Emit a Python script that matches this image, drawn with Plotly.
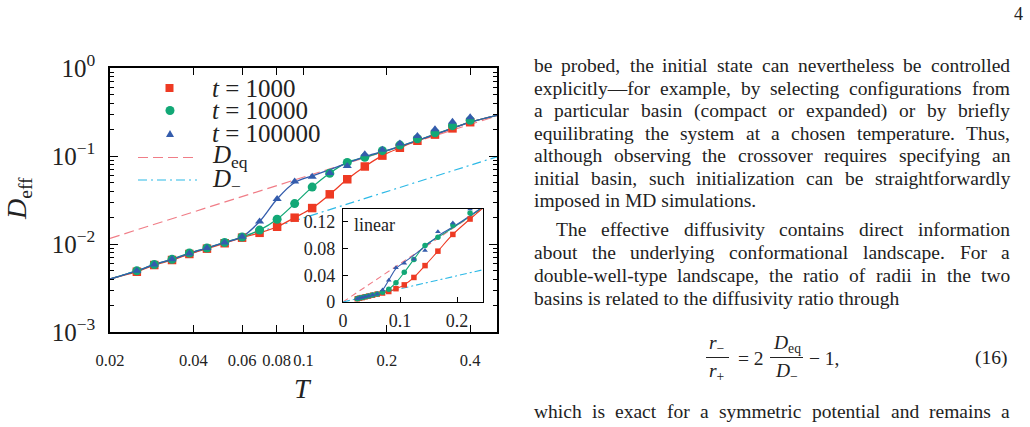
import plotly.graph_objects as go

W, H = 1030, 427

# ---------------- data ----------------
T = [0.0250, 0.0289, 0.0335, 0.0387, 0.0448, 0.0519, 0.0600, 0.0694, 0.0803, 0.0929,
     0.1075, 0.1244, 0.1439, 0.1665, 0.1927, 0.2229, 0.2579, 0.2985, 0.3453, 0.4000]
D_T1000 = [0.00484, 0.00577, 0.00658, 0.0077, 0.00885, 0.0102, 0.0118, 0.0134, 0.0157, 0.0199,
           0.0256, 0.0367, 0.0544, 0.0760, 0.101, 0.124, 0.149, 0.175, 0.206, 0.242]
D_T10000 = [0.00495, 0.00585, 0.0067, 0.0079, 0.0090, 0.0104, 0.0120, 0.0144, 0.0191, 0.0288,
            0.0443, 0.0637, 0.0845, 0.0966, 0.115, 0.133, 0.157, 0.184, 0.221, 0.254]
D_T100000 = [0.00495, 0.00585, 0.0067, 0.0078, 0.0090, 0.0104, 0.0121, 0.0180, 0.0325, 0.0512,
             0.0580, 0.0640, 0.0769, 0.105, 0.118, 0.139, 0.169, 0.201, 0.245, 0.275]

FIT_T = [0.0200, 0.0250, 0.0289, 0.0335, 0.0387, 0.0448, 0.0519, 0.0600, 0.0694, 0.0803, 0.0929,
         0.1075, 0.1244, 0.1439, 0.1665, 0.1927, 0.2229, 0.2579, 0.2985, 0.3453, 0.4000, 0.5000]
FIT_1000 = [0.0040, 0.00484, 0.00577, 0.00658, 0.0077, 0.00885, 0.0102, 0.0118, 0.0134, 0.0157, 0.0199,
            0.0256, 0.0367, 0.0544, 0.0760, 0.101, 0.124, 0.149, 0.175, 0.206, 0.242, 0.290]
FIT_10000 = [0.0040, 0.00495, 0.00585, 0.0067, 0.0079, 0.0090, 0.0104, 0.0120, 0.0144, 0.0191, 0.0288,
             0.0443, 0.0637, 0.0845, 0.0966, 0.111, 0.128, 0.150, 0.177, 0.208, 0.243, 0.290]
FIT_100000 = [0.0040, 0.00495, 0.00585, 0.0067, 0.0078, 0.0090, 0.0104, 0.0121, 0.0180, 0.0325, 0.0500,
              0.0595, 0.0700, 0.0830, 0.0985, 0.112, 0.129, 0.150, 0.176, 0.207, 0.243, 0.290]

DEQ_T = [0.0, 0.02, 0.5]
DEQ_D = [0.0, 0.0116, 0.285]
DMINUS_T = [0.0, 0.02, 0.5]
DMINUS_D = [0.0, 0.0040, 0.098]

SERIES_NAMES = ["<i>t</i> = 1000", "<i>t</i> = 10000", "<i>t</i> = 100000"]
GUIDE_NAMES = ["<i>D</i><sub>eq</sub>", "<i>D</i><sub>−</sub>"]

X_TICKS = [0.02, 0.04, 0.06, 0.08, 0.1, 0.2, 0.4]
X_TICKTEXT = ["0.02", "0.04", "0.06", "0.08", "0.1", "0.2", "0.4"]
Y_TICKS = [1e-3, 1e-2, 1e-1, 1]
Y_TICKTEXT = ["10<sup>−3</sup>", "10<sup>−2</sup>", "10<sup>−1</sup>", "10<sup>0</sup>"]
INSET_X_TICKS = [0, 0.1, 0.2]
INSET_X_TICKTEXT = ["0", "0.1", "0.2"]
INSET_Y_TICKS = [0, 0.04, 0.08, 0.12]
INSET_Y_TICKTEXT = ["0", "0.04", "0.08", "0.12"]

BODY_LINES = [
    "be probed, the initial state can nevertheless be controlled",
    "explicitly—for example, by selecting configurations from",
    "a particular basin (compact or expanded) or by briefly",
    "equilibrating the system at a chosen temperature. Thus,",
    "although observing the crossover requires specifying an",
    "initial basin, such initialization can be straightforwardly",
    "imposed in MD simulations.",
    "The effective diffusivity contains direct information",
    "about the underlying conformational landscape. For a",
    "double-well-type landscape, the ratio of radii in the two",
    "basins is related to the diffusivity ratio through",
    "which is exact for a symmetric potential and remains a",
]

# ---------------- style ----------------
RED = "rgb(238,58,35)"
GREEN = "rgb(18,168,118)"
BLUE = "rgb(52,92,172)"
PINK = "rgb(240,125,135)"
CYAN = "rgb(45,185,230)"
FONT = "Liberation Serif"
TXT = "#222222"

# Times (Liberation Serif) advance widths, 1/1000 em, used to justify body text
TW = {' ': 250, ',': 250, '.': 250, '-': 333, '(': 333, ')': 333, '—': 1000,
      'A': 722, 'B': 667, 'C': 667, 'D': 722, 'E': 611, 'F': 556, 'G': 722, 'H': 722, 'I': 333,
      'J': 389, 'K': 722, 'L': 611, 'M': 889, 'N': 722, 'O': 722, 'P': 556, 'Q': 722, 'R': 667,
      'S': 556, 'T': 611, 'U': 722, 'V': 722, 'W': 944, 'X': 722, 'Y': 722, 'Z': 611,
      'a': 444, 'b': 500, 'c': 444, 'd': 500, 'e': 444, 'f': 333, 'g': 500, 'h': 500, 'i': 278,
      'j': 278, 'k': 500, 'l': 278, 'm': 778, 'n': 500, 'o': 500, 'p': 500, 'q': 500, 'r': 333,
      's': 389, 't': 278, 'u': 500, 'v': 500, 'w': 722, 'x': 500, 'y': 500, 'z': 444}


def px(x):
    return x / W


def py(y):
    return 1 - y / H


fig = go.Figure()

# ---------- main panel ----------
fig.add_trace(go.Scatter(x=DEQ_T[1:], y=DEQ_D[1:], mode="lines",
                         line=dict(color=PINK, width=1.2, dash="10px,5px"), xaxis="x", yaxis="y"))
fig.add_trace(go.Scatter(x=DMINUS_T[1:], y=DMINUS_D[1:], mode="lines",
                         line=dict(color=CYAN, width=1.2, dash="9px,4px,2px,4px"), xaxis="x", yaxis="y"))
for fit, col in [(FIT_1000, RED), (FIT_10000, GREEN), (FIT_100000, BLUE)]:
    fig.add_trace(go.Scatter(x=FIT_T, y=fit, mode="lines", line=dict(color=col, width=1.3, shape="spline"),
                             xaxis="x", yaxis="y"))
for d, col, sym, sz in [(D_T1000, RED, "square", 8.5), (D_T10000, GREEN, "circle", 9),
                        (D_T100000, BLUE, "triangle-up", 8)]:
    fig.add_trace(go.Scatter(x=T, y=d, mode="markers", marker=dict(color=col, symbol=sym, size=sz,
                             line=dict(width=0)), xaxis="x", yaxis="y"))

# ---------- inset ----------
fig.add_trace(go.Scatter(x=DEQ_T, y=DEQ_D, mode="lines",
                         line=dict(color=PINK, width=1.1, dash="6px,4px"), xaxis="x2", yaxis="y2"))
fig.add_trace(go.Scatter(x=DMINUS_T, y=DMINUS_D, mode="lines",
                         line=dict(color=CYAN, width=1.1, dash="7px,3px,2px,3px"), xaxis="x2", yaxis="y2"))
for fit, col in [(FIT_1000, RED), (FIT_10000, GREEN), (FIT_100000, BLUE)]:
    fig.add_trace(go.Scatter(x=FIT_T, y=fit, mode="lines", line=dict(color=col, width=1.1, shape="spline"),
                             xaxis="x2", yaxis="y2"))
for d, col, sym, sz in [(D_T1000, RED, "square", 5.5), (D_T10000, GREEN, "circle", 5.5),
                        (D_T100000, BLUE, "triangle-up", 5)]:
    fig.add_trace(go.Scatter(x=T, y=d, mode="markers", marker=dict(color=col, symbol=sym, size=sz,
                             line=dict(width=0)), xaxis="x2", yaxis="y2"))

minor_vals = [m * 10 ** e for e in (-3, -2, -1) for m in range(2, 10)]

fig.update_layout(
    width=W, height=H, margin=dict(l=0, r=0, t=0, b=0, pad=0), autosize=False,
    paper_bgcolor="white", plot_bgcolor="white", showlegend=False,
    font=dict(family=FONT, color=TXT, size=18),
    xaxis=dict(type="log", range=[-1.69897, -0.30103], domain=[px(110), px(497)], anchor="y",
               automargin=False, showline=True, linecolor="black", linewidth=1.5, mirror="ticks",
               ticks="inside", ticklen=7, tickwidth=1.2, tickcolor="black", tickangle=0,
               tickvals=X_TICKS, ticktext=X_TICKTEXT, tickfont=dict(size=16.5, family=FONT, color=TXT),
               ticklabelstandoff=12, showgrid=False, zeroline=False),
    yaxis=dict(type="log", range=[-3, 0], domain=[py(332), py(68)], anchor="x",
               automargin=False, showline=True, linecolor="black", linewidth=1.5, mirror="ticks",
               ticks="inside", ticklen=8, tickwidth=1.2, tickcolor="black",
               tickvals=Y_TICKS, ticktext=Y_TICKTEXT, tickfont=dict(size=25, family=FONT, color=TXT),
               ticklabelstandoff=8, showgrid=False, zeroline=False,
               minor=dict(tickvals=minor_vals, ticks="inside", ticklen=4, tickwidth=1, tickcolor="black",
                          showgrid=False)),
    xaxis2=dict(range=[0, 0.2456], domain=[px(343), px(483)], anchor="y2",
                automargin=False, showline=True, linecolor="black", linewidth=1.3, mirror=True,
                ticks="inside", ticklen=5, tickwidth=1, tickcolor="black", tickangle=0,
                tickvals=INSET_X_TICKS, ticktext=INSET_X_TICKTEXT, tickfont=dict(size=18, family=FONT, color=TXT),
                ticklabelstandoff=2, showgrid=False, zeroline=False),
    yaxis2=dict(range=[0, 0.139], domain=[py(302), py(209)], anchor="x2",
                automargin=False, showline=True, linecolor="black", linewidth=1.3, mirror=True,
                ticks="inside", ticklen=5, tickwidth=1, tickcolor="black",
                tickvals=INSET_Y_TICKS, ticktext=INSET_Y_TICKTEXT, tickfont=dict(size=18, family=FONT, color=TXT),
                ticklabelstandoff=3, showgrid=False, zeroline=False),
)

ann = []
shapes = []


def text(x, y, s, size=19.5, xanchor="left", angle=0, yanchor="middle"):
    ann.append(dict(x=px(x), y=py(y), xref="paper", yref="paper", text=s, showarrow=False,
                    xanchor=xanchor, yanchor=yanchor, textangle=angle, borderpad=0,
                    font=dict(family=FONT, size=size, color=TXT)))


def word_width(w, size):
    return sum(TW.get(c, 500) for c in w) * size / 1000.0


def justified(x0, x1, y, line, size):
    words = line.split(" ")
    total = sum(word_width(w, size) for w in words)
    gap = (x1 - x0 - total) / (len(words) - 1)
    x = x0
    for w in words:
        text(x, y, w, size=size)
        x += word_width(w, size) + gap


# axis titles
text(18, 199, "<i>D</i><sub>eff</sub>", size=28, xanchor="center", angle=-90)
text(303, 388, "<i>T</i>", size=28, xanchor="center")
# inset label
text(353, 225, "linear", size=18)

# legend (manual)
leg_y = [88, 110.5, 133.5]
for (name, yy) in zip(SERIES_NAMES, leg_y):
    text(211, yy, name, size=25)
text(211, 157, GUIDE_NAMES[0], size=25)
text(211, 180, GUIDE_NAMES[1], size=25)
shapes.append(dict(type="rect", xref="paper", yref="paper", x0=px(165.5), x1=px(173.5),
                   y0=py(92), y1=py(84), fillcolor=RED, line=dict(width=0)))
shapes.append(dict(type="circle", xref="paper", yref="paper", x0=px(165.5), x1=px(174.5),
                   y0=py(115), y1=py(106), fillcolor=GREEN, line=dict(width=0)))
shapes.append(dict(type="path", xref="paper", yref="paper",
                   path=f"M {px(166)} {py(137)} L {px(174)} {py(137)} L {px(170)} {py(130)} Z",
                   fillcolor=BLUE, line=dict(width=0)))
shapes.append(dict(type="line", xref="paper", yref="paper", x0=px(138), x1=px(197), y0=py(157.5), y1=py(157.5),
                   line=dict(color=PINK, width=1.2, dash="10px,5px")))
shapes.append(dict(type="line", xref="paper", yref="paper", x0=px(138), x1=px(197), y0=py(180), y1=py(180),
                   line=dict(color=CYAN, width=1.2, dash="9px,4px,2px,4px")))

# page number
text(1018, 14, "4", size=18, xanchor="center")

# body text (justified like the two-column page)
BODY_SIZE = 19.5
LEFT, RIGHT = 533, 1009
line_y = [66, 88.4, 110.8, 133.2, 155.6, 178, 200.4, 229, 252, 275, 298]
for i, yy in enumerate(line_y):
    x0 = 555 if i == 7 else LEFT
    if i in (6, 10):
        text(x0, yy, BODY_LINES[i], size=BODY_SIZE)
    else:
        justified(x0, RIGHT, yy, BODY_LINES[i], BODY_SIZE)
justified(LEFT, RIGHT, 411, BODY_LINES[11], BODY_SIZE)

# equation (16)
text(717, 344, "<i>r</i><sub>−</sub>", xanchor="center")
text(717, 372, "<i>r</i><sub>+</sub>", xanchor="center")
shapes.append(dict(type="line", xref="paper", yref="paper", x0=px(706), x1=px(729), y0=py(357.5), y1=py(357.5),
                   line=dict(color=TXT, width=1)))
text(751, 358, "= 2", xanchor="center")
text(786.5, 344, "<i>D</i><sub>eq</sub>", xanchor="center")
text(786.5, 372, "<i>D</i><sub>−</sub>", xanchor="center")
shapes.append(dict(type="line", xref="paper", yref="paper", x0=px(770), x1=px(803), y0=py(357.5), y1=py(357.5),
                   line=dict(color=TXT, width=1)))
text(808, 358, "− 1,")
text(1009, 358, "(16)", xanchor="right")

fig.update_layout(annotations=ann, shapes=shapes)
fig.write_html("out.html")
